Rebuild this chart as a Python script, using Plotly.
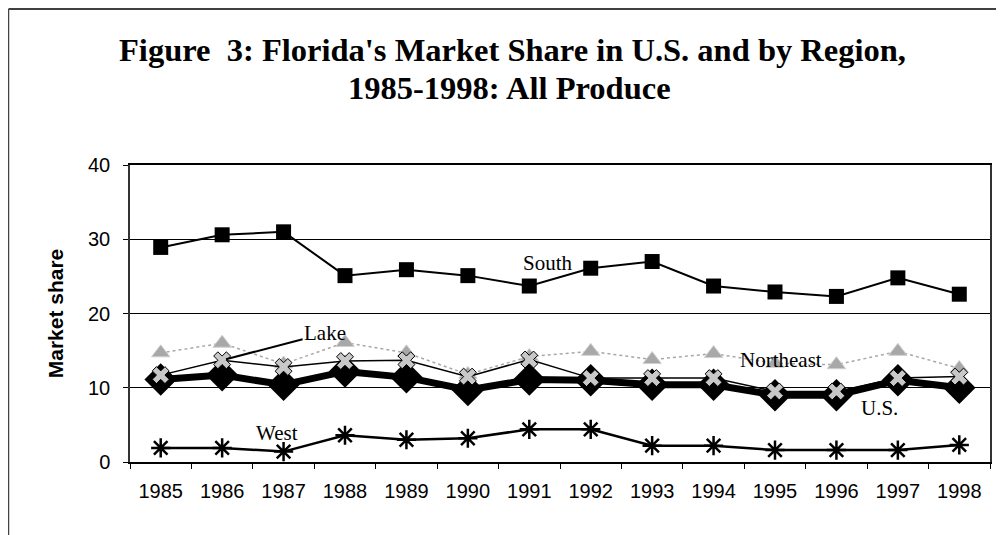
import plotly.graph_objects as go

# Florida market share (%) by region, 1985-1998, all produce
years = [1985, 1986, 1987, 1988, 1989, 1990, 1991, 1992, 1993, 1994, 1995, 1996, 1997, 1998]
south = [28.9, 30.6, 31.0, 25.1, 25.9, 25.1, 23.7, 26.1, 27.0, 23.7, 22.9, 22.3, 24.8, 22.6]
northeast = [14.7, 16.0, 13.2, 16.1, 14.7, 11.8, 14.2, 14.9, 13.8, 14.6, 13.3, 13.1, 14.9, 12.6]
lake = [11.7, 13.7, 12.8, 13.6, 13.7, 11.5, 13.8, 11.3, 11.3, 11.3, 9.5, 9.5, 11.3, 11.5]
us = [11.1, 11.7, 10.4, 12.2, 11.4, 9.7, 11.1, 11.0, 10.4, 10.4, 9.0, 9.0, 11.0, 10.0]
west = [1.9, 1.9, 1.4, 3.6, 3.0, 3.2, 4.4, 4.4, 2.2, 2.2, 1.6, 1.6, 1.6, 2.3]
y_ticks = [0, 10, 20, 30, 40]

SERIF = "Liberation Serif, Times New Roman, serif"
SANS = "Liberation Sans, Arial, sans-serif"

# the page body adds an 8px margin, so work in figure coords shifted by -8
OFF = 8
PL, PR, PT, PB = 130 - OFF, 990 - OFF, 165 - OFF, 462 - OFF   # plot box in figure px
W, H = 1004 - OFF, 535 - OFF


def px(x):
    return (x - OFF - PL) / (PR - PL)


def py(y):
    return (PB - (y - OFF)) / (PB - PT)


fig = go.Figure()

# Northeast: grey triangles, dotted grey line (drawn first, sits behind)
fig.add_trace(go.Scatter(
    x=years, y=northeast, mode='lines+markers', name='Northeast',
    line=dict(color='#a8a8a8', width=1.5, dash='dot'),
    marker=dict(symbol='triangle-up', size=16, color='#a8a8a8',
                line=dict(color='#d0d0d0', width=1))
))

# U.S.: heavy black line with big diamonds
fig.add_trace(go.Scatter(
    x=years, y=us, mode='lines+markers', name='U.S.',
    line=dict(color='black', width=7),
    marker=dict(symbol='diamond', size=25, color='black')
))

# Lake: thin black line, X markers
fig.add_trace(go.Scatter(
    x=years, y=lake, mode='lines+markers', name='Lake',
    line=dict(color='black', width=1.5),
    marker=dict(symbol='x', size=15, color='#c8c8c8',
                line=dict(color='black', width=1))
))

# South: black squares
fig.add_trace(go.Scatter(
    x=years, y=south, mode='lines+markers', name='South',
    line=dict(color='black', width=2),
    marker=dict(symbol='square', size=15, color='black')
))

# West: asterisks
fig.add_trace(go.Scatter(
    x=years, y=west, mode='lines+markers', name='West',
    line=dict(color='black', width=2.5),
    marker=dict(symbol='asterisk-open', size=16,
                line=dict(color='black', width=2.5))
))

label_font = dict(family=SERIF, size=21, color='black')
title_font = dict(family=SERIF, size=32.5, color='black')

fig.update_layout(
    annotations=[
        dict(x=1991.3, y=26.8, text='South', showarrow=False, font=label_font),
        dict(x=1995.1, y=13.7, text='Northeast', showarrow=False, font=label_font),
        dict(x=1996.7, y=7.3, text='U.S.', showarrow=False, font=label_font),
        dict(x=1986.9, y=3.9, text='West', showarrow=False, font=label_font),
        dict(x=1986, y=13.7, text='Lake', showarrow=True, arrowhead=0,
             arrowwidth=2, arrowcolor='black', ax=103, ay=-27, standoff=4,
             font=label_font),
        dict(x=px(512), xref='paper', y=py(50), yref='paper',
             xanchor='center', yanchor='middle',
             text="<b>Figure  3: Florida's Market Share in U.S. and by Region,</b>",
             showarrow=False, font=title_font),
        dict(x=px(509), xref='paper', y=py(88), yref='paper',
             xanchor='center', yanchor='middle',
             text="<b>1985-1998: All Produce</b>",
             showarrow=False, font=title_font),
    ],
    width=W,
    height=H,
    margin=dict(l=PL, r=W - PR, t=PT, b=H - PB),
    paper_bgcolor='white',
    plot_bgcolor='white',
    showlegend=False,
    shapes=[
        # outer frame: top and left edges
        dict(type='line', xref='paper', yref='paper',
             x0=px(8.5), x1=px(1010), y0=py(9), y1=py(9),
             line=dict(color='black', width=1.5)),
        dict(type='line', xref='paper', yref='paper',
             x0=px(8.5), x1=px(8.5), y0=py(9), y1=py(540),
             line=dict(color='#444', width=1.5)),
    ],
)

fig.update_xaxes(
    range=[1984.5, 1998.5],
    tickmode='array', tickvals=years, ticktext=[str(y) for y in years],
    ticks='', ticklabelstandoff=10,
    minor=dict(tickmode='linear', tick0=1984.5, dtick=1, ticks='outside',
               ticklen=5, tickcolor='black', showgrid=False),
    showgrid=False, zeroline=False,
    showline=True, linecolor='black', linewidth=1.5, mirror=True,
    tickfont=dict(family=SANS, size=20, color='black'),
)

fig.update_yaxes(
    range=[0, 40],
    tickmode='array', tickvals=y_ticks,
    ticks='outside', ticklen=5, tickcolor='black', ticklabelstandoff=9,
    showgrid=True, gridcolor='black', gridwidth=1, zeroline=False,
    showline=True, linecolor='#333', linewidth=1.5, mirror=True,
    tickfont=dict(family=SANS, size=20, color='black'),
    title=dict(text='<b>Market share</b>', standoff=19,
               font=dict(family=SANS, size=21, color='black')),
)

fig.write_html("out.html")
